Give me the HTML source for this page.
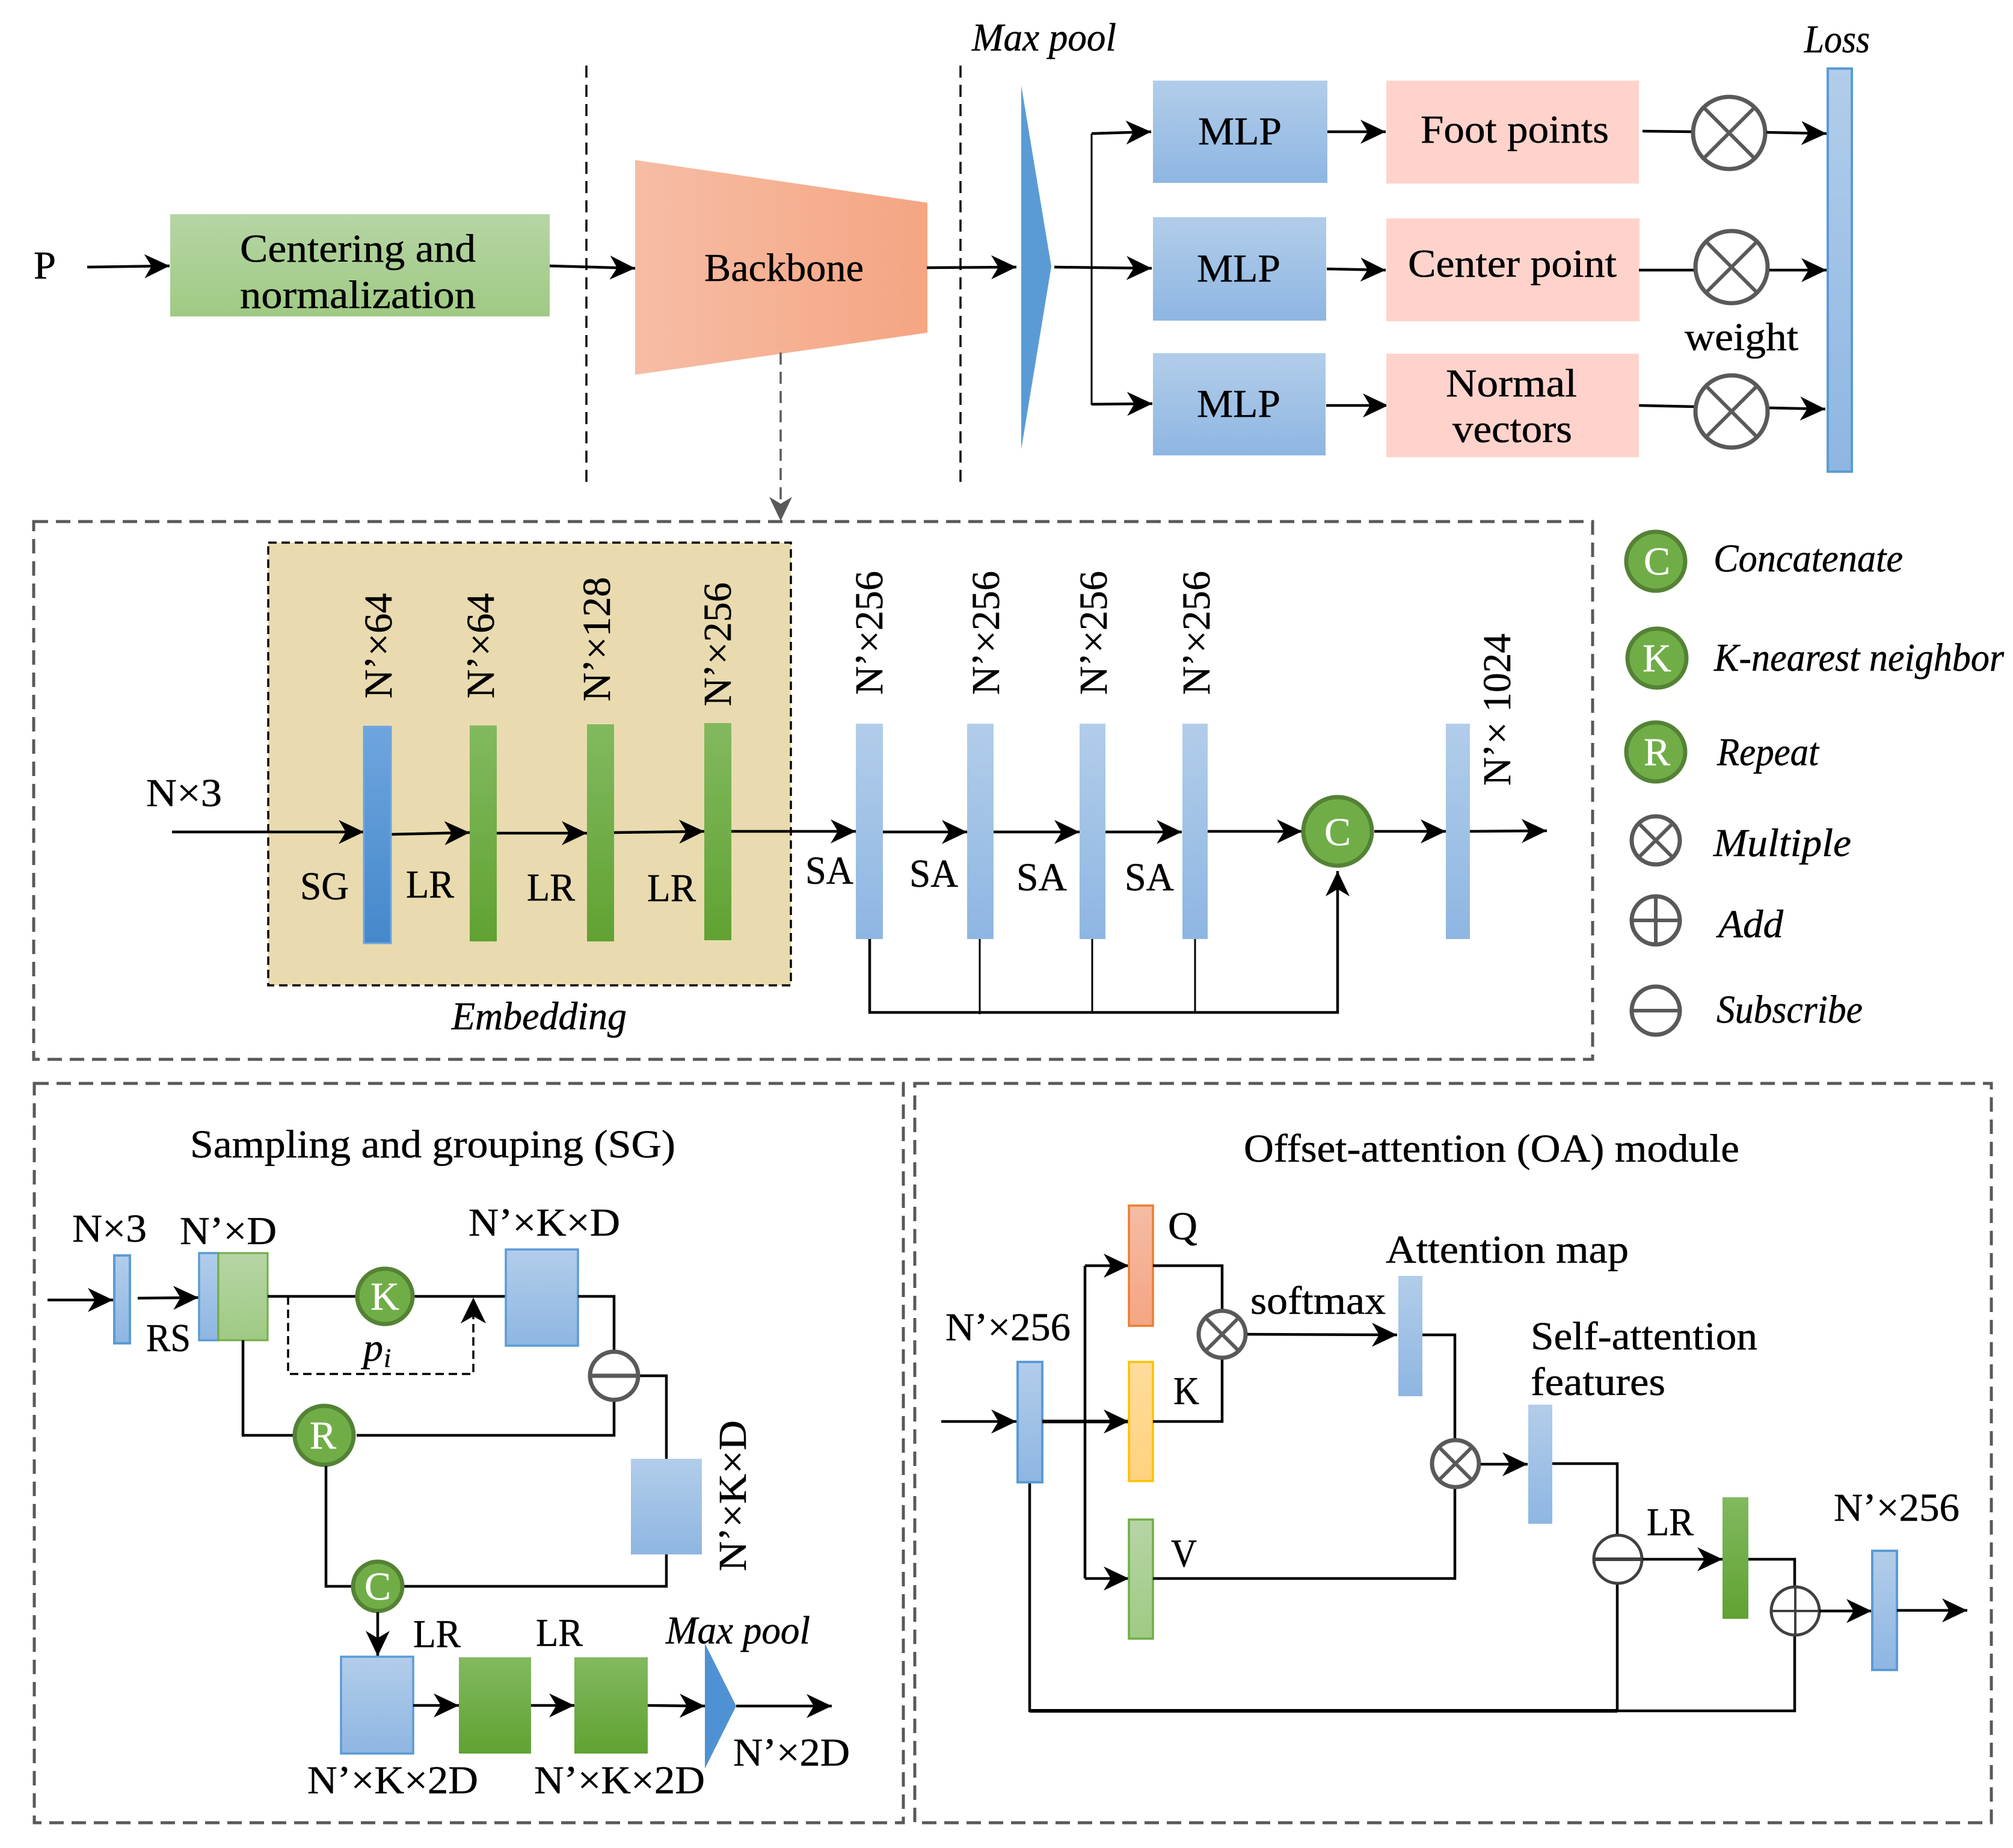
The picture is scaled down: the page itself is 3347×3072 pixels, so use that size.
<!DOCTYPE html>
<html><head><meta charset="utf-8"><style>
html,body{margin:0;padding:0;background:#fff}
svg{display:block}
text{font-family:"Liberation Serif",serif;font-size:66px;fill:#000;stroke:#000;stroke-width:.5}
.i{font-style:italic}
.w{fill:#fff;stroke:#fff;text-anchor:middle}
.l{stroke:#000;stroke-width:4.5;fill:none}
.t{stroke:#000;stroke-width:3;fill:none}
.a{stroke:#000;stroke-width:4.5;fill:none;marker-end:url(#ah)}
.d{stroke:#595959;stroke-width:5;fill:none;stroke-dasharray:24 13}
.o{stroke:#595959;stroke-width:7;fill:#fff}
.x{stroke:#595959;stroke-width:6;fill:none}
.gc{fill:#70ad47;stroke:#548235;stroke-width:7}
</style></head><body>
<svg xmlns="http://www.w3.org/2000/svg" width="3347" height="3072" viewBox="0 0 3347 3072">
<defs>
<marker id="ah" markerUnits="userSpaceOnUse" markerWidth="42" markerHeight="40" viewBox="0 0 42 40" refX="42" refY="20" orient="auto"><path d="M0 0L42 20L0 40L12 20Z" fill="#000"/></marker>
<marker id="ag" markerUnits="userSpaceOnUse" markerWidth="40" markerHeight="40" viewBox="0 0 42 40" refX="42" refY="20" orient="auto"><path d="M0 0L42 20L0 40L12 20Z" fill="#595959"/></marker>
<linearGradient id="gb" x1="0" y1="0" x2="0" y2="1"><stop offset="0" stop-color="#b2cdea"/><stop offset="1" stop-color="#8eb6e2"/></linearGradient>
<linearGradient id="gd" x1="0" y1="0" x2="0" y2="1"><stop offset="0" stop-color="#6fa5de"/><stop offset="1" stop-color="#4488cb"/></linearGradient>
<linearGradient id="gg" x1="0" y1="0" x2="0" y2="1"><stop offset="0" stop-color="#82b95f"/><stop offset="1" stop-color="#60a232"/></linearGradient>
<linearGradient id="gl" x1="0" y1="0" x2="0" y2="1"><stop offset="0" stop-color="#b6d5a5"/><stop offset="1" stop-color="#9fca83"/></linearGradient>
<linearGradient id="go" x1="0" y1="0" x2="1" y2="0"><stop offset="0" stop-color="#f6bda5"/><stop offset="1" stop-color="#f5a582"/></linearGradient>
<linearGradient id="gq" x1="0" y1="0" x2="0" y2="1"><stop offset="0" stop-color="#f5bca5"/><stop offset="1" stop-color="#f5a582"/></linearGradient>
<linearGradient id="gy" x1="0" y1="0" x2="0" y2="1"><stop offset="0" stop-color="#ffdc9b"/><stop offset="1" stop-color="#ffd27f"/></linearGradient>
</defs>
<rect width="3347" height="3072" fill="#fff"/>

<!-- TOP -->
<line x1="975" y1="109" x2="975" y2="808" stroke="#000" stroke-width="3.5" stroke-dasharray="20 12"/>
<line x1="1597" y1="109" x2="1597" y2="806" stroke="#000" stroke-width="3.5" stroke-dasharray="20 12"/>
<text x="56" y="463" textLength="37" lengthAdjust="spacingAndGlyphs">P</text>
<line class="a" x1="145" y1="444" x2="282" y2="442"/>
<rect x="283" y="356" width="631" height="170" fill="url(#gl)"/>
<text x="399" y="435" textLength="392" lengthAdjust="spacingAndGlyphs">Centering and</text>
<text x="399" y="512" textLength="392" lengthAdjust="spacingAndGlyphs">normalization</text>
<line class="a" x1="914" y1="442" x2="1056" y2="446"/>
<polygon points="1056,266 1542,337 1542,553 1056,623" fill="url(#go)"/>
<text x="1171" y="467" textLength="265" lengthAdjust="spacingAndGlyphs">Backbone</text>
<line class="a" x1="1541" y1="445" x2="1690" y2="444"/>
<line x1="1298" y1="586" x2="1298" y2="866" stroke="#595959" stroke-width="3.5" stroke-dasharray="20 12" marker-end="url(#ag)"/>
<polygon points="1698,142 1748,443 1698,747" fill="#5b9bd5"/>
<text class="i" x="1616" y="84" textLength="240" lengthAdjust="spacingAndGlyphs">Max pool</text>
<text class="i" x="3000" y="87" textLength="109" lengthAdjust="spacingAndGlyphs">Loss</text>
<line class="t" x1="1815" y1="222" x2="1815" y2="673" stroke-width="4"/>
<line class="a" x1="1815" y1="222" x2="1914" y2="219"/>
<line class="a" x1="1753" y1="444" x2="1915" y2="446"/>
<line class="a" x1="1815" y1="672" x2="1916" y2="671"/>
<rect x="1917" y="134" width="290" height="170" fill="url(#gb)"/>
<rect x="1917" y="361" width="288" height="172" fill="url(#gb)"/>
<rect x="1917" y="587" width="287" height="170" fill="url(#gb)"/>
<text x="1992" y="240" textLength="139" lengthAdjust="spacingAndGlyphs">MLP</text>
<text x="1990" y="468" textLength="139" lengthAdjust="spacingAndGlyphs">MLP</text>
<text x="1990" y="693" textLength="139" lengthAdjust="spacingAndGlyphs">MLP</text>
<line class="a" x1="2207" y1="219" x2="2304" y2="219"/>
<line class="a" x1="2206" y1="447" x2="2304" y2="449"/>
<line class="a" x1="2205" y1="674" x2="2308" y2="674"/>
<rect x="2305" y="134" width="420" height="171" fill="#ffd3cc"/>
<rect x="2305" y="363" width="421" height="171" fill="#ffd3cc"/>
<rect x="2305" y="588" width="420" height="172" fill="#ffd3cc"/>
<text x="2362" y="237" textLength="313" lengthAdjust="spacingAndGlyphs">Foot points</text>
<text x="2341" y="460" textLength="347" lengthAdjust="spacingAndGlyphs">Center point</text>
<text x="2404" y="659" textLength="218" lengthAdjust="spacingAndGlyphs">Normal</text>
<text x="2415" y="735" textLength="199" lengthAdjust="spacingAndGlyphs">vectors</text>
<line class="l" x1="2731" y1="218" x2="2815" y2="219"/>
<line class="l" x1="2725" y1="449" x2="2818" y2="449"/>
<line class="l" x1="2725" y1="674" x2="2818" y2="676"/>
<g transform="translate(2875,221)"><circle class="o" r="60"/><path class="x" d="M-42-42L42 42M42-42L-42 42"/></g>
<g transform="translate(2879,444)"><circle class="o" r="60"/><path class="x" d="M-42-42L42 42M42-42L-42 42"/></g>
<g transform="translate(2879,684)"><circle class="o" r="60"/><path class="x" d="M-42-42L42 42M42-42L-42 42"/></g>
<line class="a" x1="2937" y1="220" x2="3037" y2="222"/>
<line class="a" x1="2942" y1="449" x2="3037" y2="449"/>
<line class="a" x1="2942" y1="678" x2="3035" y2="680"/>
<rect x="3039" y="114" width="40" height="670" fill="url(#gb)" stroke="#5b9bd5" stroke-width="4"/>
<text x="2801" y="582" textLength="189" lengthAdjust="spacingAndGlyphs">weight</text>

<!-- MIDDLE -->
<rect class="d" x="56" y="867" width="2592" height="894"/>
<rect x="446" y="902" width="869" height="736" fill="#e9dbaf" stroke="#000" stroke-width="3.5" stroke-dasharray="14 8"/>
<text x="243" y="1340" textLength="126" lengthAdjust="spacingAndGlyphs">N×3</text>
<line class="a" x1="286" y1="1383" x2="605" y2="1383"/>
<line class="a" x1="650" y1="1387" x2="781" y2="1384"/>
<line class="a" x1="826" y1="1385" x2="976" y2="1385"/>
<line class="a" x1="1021" y1="1384" x2="1171" y2="1382"/>
<line class="a" x1="1216" y1="1382" x2="1423" y2="1382"/>
<line class="a" x1="1468" y1="1383" x2="1608" y2="1383"/>
<line class="a" x1="1651" y1="1383" x2="1795" y2="1383"/>
<line class="a" x1="1838" y1="1383" x2="1965" y2="1383"/>
<line class="a" x1="2008" y1="1382" x2="2165" y2="1382"/>
<line class="a" x1="2285" y1="1382" x2="2404" y2="1382"/>
<line class="a" x1="2444" y1="1382" x2="2572" y2="1381"/>
<rect x="605" y="1208" width="45" height="360" fill="url(#gd)" stroke="#6ea6dc" stroke-width="3"/>
<rect x="781" y="1206" width="45" height="359" fill="url(#gg)"/>
<rect x="976" y="1204" width="45" height="361" fill="url(#gg)"/>
<rect x="1171" y="1202" width="45" height="361" fill="url(#gg)"/>
<rect x="1423" y="1203" width="45" height="358" fill="url(#gb)"/>
<rect x="1608" y="1203" width="44" height="358" fill="url(#gb)"/>
<rect x="1795" y="1203" width="43" height="358" fill="url(#gb)"/>
<rect x="1966" y="1203" width="42" height="358" fill="url(#gb)"/>
<rect x="2404" y="1203" width="40" height="358" fill="url(#gb)"/>
<path class="l" d="M1446 1561V1683H2224V1448" marker-end="url(#ah)"/>
<line class="t" x1="1629" y1="1561" x2="1629" y2="1686"/>
<line class="t" x1="1816" y1="1561" x2="1816" y2="1683"/>
<line class="t" x1="1987" y1="1561" x2="1987" y2="1683"/>
<circle class="gc" cx="2224" cy="1382" r="57"/>
<text class="w" x="2224" y="1405">C</text>
<text transform="translate(651,1161) rotate(-90)" textLength="175" lengthAdjust="spacingAndGlyphs">N’×64</text>
<text transform="translate(821,1161) rotate(-90)" textLength="175" lengthAdjust="spacingAndGlyphs">N’×64</text>
<text transform="translate(1014,1166) rotate(-90)" textLength="207" lengthAdjust="spacingAndGlyphs">N’×128</text>
<text transform="translate(1215,1174) rotate(-90)" textLength="206" lengthAdjust="spacingAndGlyphs">N’×256</text>
<text transform="translate(1467,1155) rotate(-90)" textLength="206" lengthAdjust="spacingAndGlyphs">N’×256</text>
<text transform="translate(1661,1155) rotate(-90)" textLength="206" lengthAdjust="spacingAndGlyphs">N’×256</text>
<text transform="translate(1840,1155) rotate(-90)" textLength="206" lengthAdjust="spacingAndGlyphs">N’×256</text>
<text transform="translate(2011,1155) rotate(-90)" textLength="206" lengthAdjust="spacingAndGlyphs">N’×256</text>
<text transform="translate(2511,1306) rotate(-90)" textLength="253" lengthAdjust="spacingAndGlyphs">N’× 1024</text>
<text x="499" y="1495" textLength="81" lengthAdjust="spacingAndGlyphs">SG</text>
<text x="675" y="1492" textLength="80" lengthAdjust="spacingAndGlyphs">LR</text>
<text x="876" y="1497" textLength="80" lengthAdjust="spacingAndGlyphs">LR</text>
<text x="1076" y="1498" textLength="81" lengthAdjust="spacingAndGlyphs">LR</text>
<text x="1339" y="1469" textLength="80" lengthAdjust="spacingAndGlyphs">SA</text>
<text x="1512" y="1474" textLength="81" lengthAdjust="spacingAndGlyphs">SA</text>
<text x="1690" y="1480" textLength="84" lengthAdjust="spacingAndGlyphs">SA</text>
<text x="1870" y="1480" textLength="82" lengthAdjust="spacingAndGlyphs">SA</text>
<text class="i" x="751" y="1711" textLength="291" lengthAdjust="spacingAndGlyphs">Embedding</text>

<!-- LEGEND -->
<circle class="gc" cx="2753" cy="933" r="49"/><text class="w" x="2755" y="955">C</text>
<circle class="gc" cx="2755" cy="1094" r="49"/><text class="w" x="2755" y="1116">K</text>
<circle class="gc" cx="2753" cy="1250" r="49"/><text class="w" x="2755" y="1272">R</text>
<g transform="translate(2753,1397)"><circle class="o" r="40"/><path class="x" d="M-28-28L28 28M28-28L-28 28"/></g>
<g transform="translate(2753,1530)"><circle class="o" r="40"/><path class="x" d="M-40 0H40M0-40V40"/></g>
<g transform="translate(2753,1680)"><circle class="o" r="40"/><path class="x" d="M-40 0H40" stroke-width="7"/></g>
<text class="i" x="2849" y="950" textLength="315" lengthAdjust="spacingAndGlyphs">Concatenate</text>
<text class="i" x="2850" y="1115" textLength="482" lengthAdjust="spacingAndGlyphs">K-nearest neighbor</text>
<text class="i" x="2855" y="1272" textLength="169" lengthAdjust="spacingAndGlyphs">Repeat</text>
<text class="i" x="2849" y="1423" textLength="229" lengthAdjust="spacingAndGlyphs">Multiple</text>
<text class="i" x="2857" y="1558" textLength="108" lengthAdjust="spacingAndGlyphs">Add</text>
<text class="i" x="2854" y="1700" textLength="243" lengthAdjust="spacingAndGlyphs">Subscribe</text>

<!-- SG -->
<rect class="d" x="57" y="1801" width="1445" height="1229"/>
<text x="316" y="1924" textLength="807" lengthAdjust="spacingAndGlyphs">Sampling and grouping (SG)</text>
<text x="120" y="2064" textLength="124" lengthAdjust="spacingAndGlyphs">N×3</text>
<text x="299" y="2068" textLength="161" lengthAdjust="spacingAndGlyphs">N’×D</text>
<text x="779" y="2054" textLength="252" lengthAdjust="spacingAndGlyphs">N’×K×D</text>
<line class="a" x1="79" y1="2161" x2="188" y2="2161"/>
<rect x="190" y="2087" width="26" height="146" fill="url(#gb)" stroke="#5b9bd5" stroke-width="4"/>
<line class="a" x1="229" y1="2158" x2="330" y2="2157"/>
<text x="243" y="2246" textLength="74" lengthAdjust="spacingAndGlyphs">RS</text>
<rect x="331" y="2083" width="32" height="145" fill="url(#gb)" stroke="#5b9bd5" stroke-width="3.5"/>
<rect x="363" y="2083" width="82" height="145" fill="url(#gl)" stroke="#70ad47" stroke-width="3"/>
<line class="l" x1="445" y1="2155" x2="841" y2="2155"/>
<path d="M479 2155V2284H787V2166" stroke="#000" stroke-width="3.5" fill="none" stroke-dasharray="14 8"/>
<path d="M787 2157L808 2200L787 2188L766 2200Z" fill="#000"/>
<circle class="gc" cx="640" cy="2155" r="46"/><text class="w" x="640" y="2177">K</text>
<text x="604" y="2262" style="font-style:italic">p</text><text x="638" y="2272" style="font-style:italic;font-size:44px">i</text>
<rect x="841" y="2077" width="120" height="160" fill="url(#gb)" stroke="#5b9bd5" stroke-width="3.5"/>
<path class="l" d="M961 2155H1021V2246"/>
<path class="l" d="M1063 2287H1108V2425"/>
<path class="l" d="M404 2228V2386H490"/>
<path class="l" d="M593 2386H1021V2326"/>
<g transform="translate(1021,2287)"><circle class="o" r="40"/><path d="M-40 0H40" stroke="#595959" stroke-width="7"/></g>
<circle class="gc" cx="539" cy="2386" r="49"/><text class="w" x="537" y="2408">R</text>
<rect x="1049" y="2425" width="118" height="159" fill="url(#gb)"/>
<text transform="translate(1240,2612) rotate(-90)" textLength="251" lengthAdjust="spacingAndGlyphs">N’×K×D</text>
<path class="l" d="M542 2437V2637H584"/>
<path class="l" d="M1108 2584V2637H671"/>
<circle class="gc" cx="628" cy="2637" r="41"/><text class="w" x="628" y="2659">C</text>
<line class="a" x1="628" y1="2680" x2="628" y2="2753"/>
<rect x="567" y="2754" width="120" height="161" fill="url(#gb)" stroke="#5b9bd5" stroke-width="3.5"/>
<rect x="763" y="2755" width="120" height="160" fill="url(#gg)"/>
<rect x="955" y="2755" width="122" height="160" fill="url(#gg)"/>
<line class="a" x1="687" y1="2835" x2="763" y2="2835"/>
<line class="a" x1="883" y1="2835" x2="955" y2="2835"/>
<line class="a" x1="1077" y1="2835" x2="1172" y2="2836"/>
<polygon points="1172,2732 1224,2836 1172,2940" fill="#4f92d3"/>
<line class="a" x1="1224" y1="2836" x2="1383" y2="2836"/>
<text x="687" y="2738" textLength="79" lengthAdjust="spacingAndGlyphs">LR</text>
<text x="891" y="2736" textLength="78" lengthAdjust="spacingAndGlyphs">LR</text>
<text class="i" x="1107" y="2732" textLength="240" lengthAdjust="spacingAndGlyphs">Max pool</text>
<text x="1219" y="2935" textLength="194" lengthAdjust="spacingAndGlyphs">N’×2D</text>
<text x="511" y="2981" textLength="284" lengthAdjust="spacingAndGlyphs">N’×K×2D</text>
<text x="888" y="2981" textLength="284" lengthAdjust="spacingAndGlyphs">N’×K×2D</text>

<!-- OA -->
<rect class="d" x="1521" y="1801" width="1790" height="1229"/>
<text x="2068" y="1931" textLength="824" lengthAdjust="spacingAndGlyphs">Offset-attention (OA) module</text>
<text x="1572" y="2228" textLength="208" lengthAdjust="spacingAndGlyphs">N’×256</text>
<line class="a" x1="1565" y1="2363" x2="1690" y2="2363"/>
<path class="l" d="M1712 2464V2844H2984V2719"/>
<line x1="1712" y1="2844" x2="2689" y2="2844" stroke="#000" stroke-width="6"/>
<line class="l" x1="2689" y1="2844" x2="2689" y2="2633"/>
<rect x="1692" y="2264" width="41" height="200" fill="url(#gb)" stroke="#5b9bd5" stroke-width="4"/>
<line x1="1733" y1="2363" x2="1877" y2="2363" class="a" style="stroke-width:6"/>
<path class="l" d="M1804 2624V2104"/>
<line class="a" x1="1804" y1="2104" x2="1877" y2="2104"/>
<line class="a" x1="1804" y1="2624" x2="1877" y2="2624"/>
<rect x="1877" y="2004" width="40" height="200" fill="url(#gq)" stroke="#ed7d31" stroke-width="3.5"/>
<rect x="1877" y="2264" width="40" height="198" fill="url(#gy)" stroke="#ffc000" stroke-width="3.5"/>
<rect x="1877" y="2526" width="40" height="198" fill="url(#gl)" stroke="#70ad47" stroke-width="3.5"/>
<text x="1942" y="2060" textLength="49" lengthAdjust="spacingAndGlyphs">Q</text>
<text x="1951" y="2334" textLength="43" lengthAdjust="spacingAndGlyphs">K</text>
<text x="1947" y="2604" textLength="43" lengthAdjust="spacingAndGlyphs">V</text>
<path class="l" d="M1917 2104H2032V2177"/>
<path class="l" d="M1917 2363H2032V2260"/>
<g transform="translate(2032,2218)"><circle class="o" r="39"/><path class="x" d="M-27-27L27 27M27-27L-27 27"/></g>
<line class="a" x1="2074" y1="2218" x2="2323" y2="2219"/>
<text x="2079" y="2184" textLength="225" lengthAdjust="spacingAndGlyphs">softmax</text>
<text x="2304" y="2099" textLength="404" lengthAdjust="spacingAndGlyphs">Attention map</text>
<rect x="2325" y="2121" width="40" height="200" fill="url(#gb)"/>
<path class="l" d="M2365 2219H2419V2392"/>
<path class="l" d="M1917 2624H2419V2475"/>
<g transform="translate(2420,2433)"><circle class="o" r="39"/><path class="x" d="M-27-27L27 27M27-27L-27 27"/></g>
<line class="a" x1="2462" y1="2434" x2="2540" y2="2434"/>
<rect x="2541" y="2335" width="40" height="198" fill="url(#gb)"/>
<text x="2545" y="2243" textLength="377" lengthAdjust="spacingAndGlyphs">Self-attention</text>
<text x="2545" y="2319" textLength="224" lengthAdjust="spacingAndGlyphs">features</text>
<path class="l" d="M2581 2433H2689V2550"/>
<g transform="translate(2690,2592)"><circle r="40" fill="#fff" stroke="#404040" stroke-width="5"/><path d="M-40 0H40" stroke="#404040" stroke-width="6"/></g>
<line class="a" x1="2731" y1="2592" x2="2864" y2="2592"/>
<text x="2738" y="2552" textLength="78" lengthAdjust="spacingAndGlyphs">LR</text>
<rect x="2864" y="2489" width="43" height="202" fill="url(#gg)"/>
<path class="l" d="M2907 2592H2984V2639"/>
<g transform="translate(2985,2678)"><circle r="40" fill="#fff" stroke="#404040" stroke-width="5"/><path d="M-40 0H40M0-40V40" stroke="#404040" stroke-width="4"/></g>
<line class="a" x1="3025" y1="2678" x2="3112" y2="2678"/>
<rect x="3113" y="2578" width="41" height="198" fill="url(#gb)" stroke="#5b9bd5" stroke-width="4"/>
<line class="a" x1="3154" y1="2677" x2="3271" y2="2677"/>
<text x="3049" y="2528" textLength="209" lengthAdjust="spacingAndGlyphs">N’×256</text>
</svg>
</body></html>
